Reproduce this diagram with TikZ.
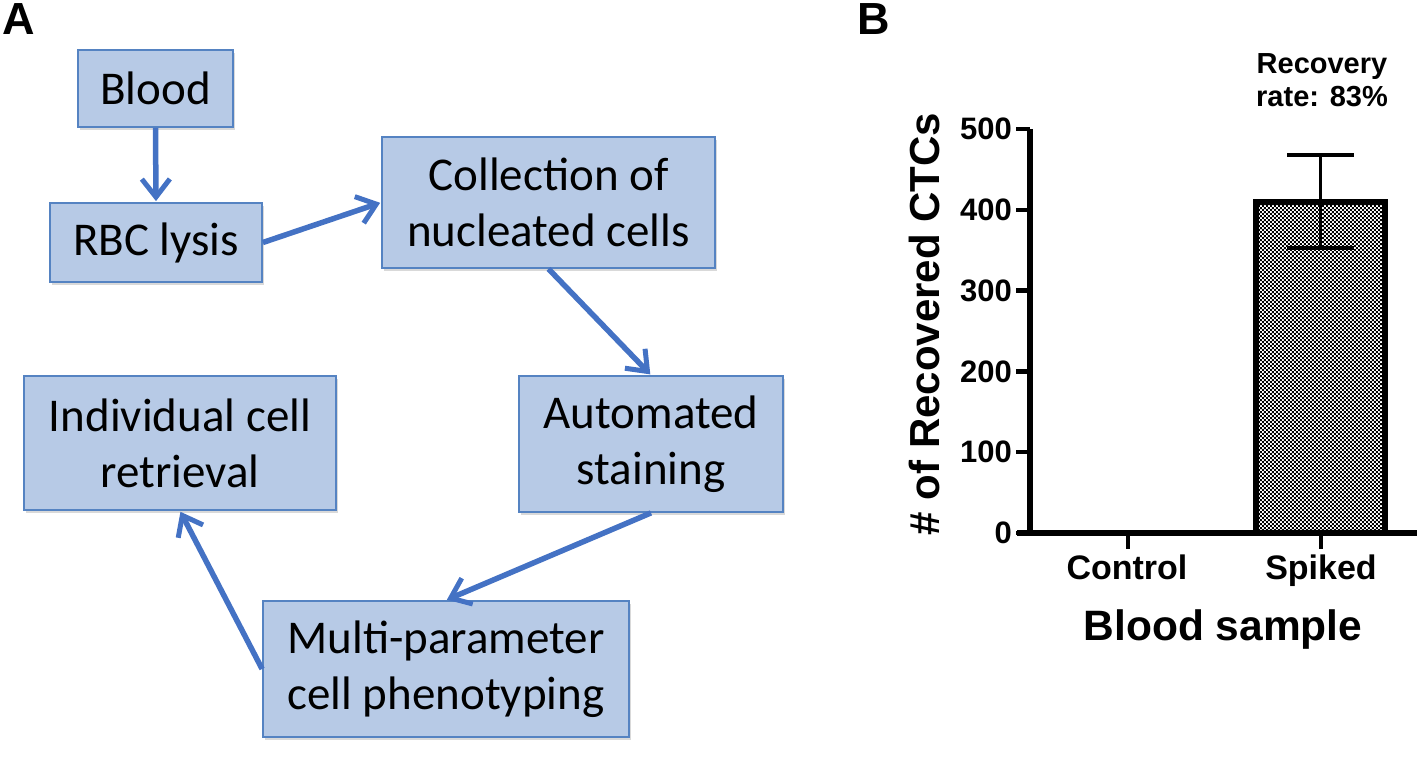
\documentclass[tikz,border=0pt]{standalone}
\usepackage{fontspec}
\setmainfont{Carlito}
\newfontfamily\arl{Liberation Sans}
\usetikzlibrary{arrows.meta,shadows,patterns}
\definecolor{boxfill}{HTML}{B7CAE6}
\definecolor{boxline}{HTML}{5583C2}
\definecolor{arrowc}{HTML}{4472C4}
\pgfdeclarepatternformonly{finecheck}{\pgfpointorigin}{\pgfqpoint{4.4pt}{4.4pt}}{\pgfqpoint{4.4pt}{4.4pt}}{%
  \pgfpathrectangle{\pgfpointorigin}{\pgfqpoint{2.2pt}{2.2pt}}%
  \pgfpathrectangle{\pgfqpoint{2.2pt}{2.2pt}}{\pgfqpoint{2.2pt}{2.2pt}}%
  \pgfusepath{fill}}
\tikzset{
  stepbox/.style={draw=boxline, line width=1.8pt, fill=boxfill, align=center, inner sep=0pt,
    font=\fontsize{47}{56}\selectfont,
    drop shadow={shadow xshift=2pt, shadow yshift=-3pt, opacity=0.3}},
  flow/.style={draw=arrowc, line width=5.5pt, -{Straight Barb[length=18pt,width=28pt,line width=5pt]}, shorten >=1pt},
  axisline/.style={line width=6pt},
  ticklab/.style={font=\arl\bfseries\fontsize{31}{34}\selectfont, inner sep=0pt},
  catlab/.style={font=\arl\bfseries\fontsize{34}{36}\selectfont, inner sep=0pt, anchor=base},
  panel/.style={font=\arl\bfseries\fontsize{45}{48}\selectfont, inner sep=0pt}
}
\begin{document}
\begin{tikzpicture}[x=1pt,y=-1pt]
\useasboundingbox (0,0) rectangle (1417,759);
% panel labels
\node[panel] (labA) at (19,19) {A};
\node[panel] (labB) at (874,19) {B};
% flow chart boxes
\node[stepbox, minimum width=155pt, minimum height=77pt] (blood) at (155.5,88.5) {Blood};
\node[stepbox, minimum width=212pt, minimum height=79pt] (rbc) at (156,242.5) {RBC lysis};
\node[stepbox, minimum width=333pt, minimum height=131pt] (coll) at (548.5,202.5) {Collection of\\nucleated cells};
\node[stepbox, minimum width=264pt, minimum height=136pt] (auto) at (651,444) {Automated\\staining};
\node[stepbox, minimum width=312pt, minimum height=134pt] (indiv) at (180,443) {Individual cell\\retrieval};
\node[stepbox, minimum width=366pt, minimum height=136pt] (multi) at (446,669) {Multi-parameter\\cell phenotyping};
% connectors
\draw[flow] (blood.south) -- (rbc.north);
\draw[flow] (rbc.east) -- (coll.west);
\draw[flow] (coll.south) -- (auto.north);
\draw[flow] (auto.south) -- (multi.north);
\draw[flow] (multi.west) -- (indiv.south);
% bar chart
\fill[pattern=finecheck, pattern color=black] (1256,533) rectangle (1385,202.5);
\draw[line width=6pt] (1256,533) |- (1385,202.5) -- (1385,533);
\draw[line width=3.5pt] (1320.5,155) -- (1320.5,248);
\draw[line width=3.5pt] (1287,155) -- (1354,155);
\draw[line width=3.5pt] (1287,248) -- (1354,248);
\draw[axisline] (1030,129) -- (1030,533);
\draw[axisline] (1017,533) -- (1417,533);
\foreach \v/\yy in {0/533,100/452.2,200/371.4,300/290.6,400/209.8,500/129}{
  \draw[line width=4.5pt] (1016,\yy) -- (1030,\yy);
  \node[ticklab, anchor=east] (t\v) at (1012,\yy) {\v};
}
\draw[line width=4.5pt] (1128,533) -- (1128,549);
\draw[line width=4.5pt] (1321,533) -- (1321,549);
\node[catlab] (ctrl) at (1127,579) {Control};
\node[catlab] (spk) at (1321,579) {Spiked};
\node[font=\arl\bfseries\fontsize{42.5}{44}\selectfont, inner sep=0pt, anchor=base] (xlab) at (1223,640) {Blood sample};
\node[font=\arl\bfseries\fontsize{42}{44}\selectfont, inner sep=0pt, rotate=90] (ylab) at (924,324) {\# of Recovered CTCs};
\node[font=\arl\bfseries\fontsize{29}{33}\selectfont, align=center, inner sep=0pt, anchor=base] (rec) at (1322,107) {Recovery\\rate: 83\%};
\end{tikzpicture}
\end{document}
